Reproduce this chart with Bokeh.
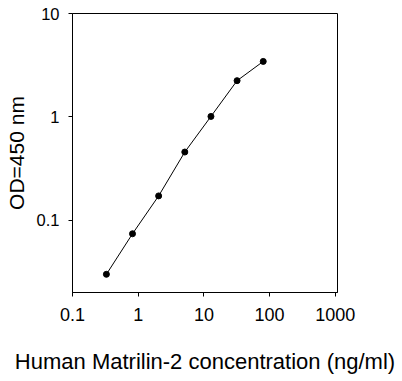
from bokeh.plotting import figure
from bokeh.models import FixedTicker, CustomJSTickFormatter, Range1d
from bokeh.embed import file_html
from bokeh.resources import INLINE

conc = [0.328, 0.819, 2.048, 5.12, 12.8, 32, 80]
od = [0.030, 0.074, 0.172, 0.457, 1.01, 2.24, 3.44]
x_ticks = [0.1, 1, 10, 100, 1000]
y_ticks = [0.1, 1, 10]
x_title = "Human Matrilin-2 concentration (ng/ml)"
y_title = "OD=450 nm"

p = figure(width=400, height=380, x_axis_type="log", y_axis_type="log",
           x_range=Range1d(0.1, 1080), y_range=Range1d(0.02, 10),
           min_border_left=72, min_border_top=13, min_border_right=63, min_border_bottom=88,
           output_backend="svg", toolbar_location=None)

p.line(conc, od, line_color="black", line_width=1)
p.scatter(conc, od, size=6, color="black")

fmt = CustomJSTickFormatter(code="return tick.toString();")
for ax, ticks in ((p.xaxis[0], x_ticks), (p.yaxis[0], y_ticks)):
    ax.ticker = FixedTicker(ticks=ticks, minor_ticks=[])
    ax.formatter = fmt
    ax.axis_line_color = "black"
    ax.major_tick_line_color = "black"
    ax.major_tick_out = 4
    ax.major_tick_in = 0
    ax.minor_tick_line_color = None
    ax.major_label_text_font = "Liberation Sans"
    ax.axis_label_text_font = "Liberation Sans"
    ax.axis_label_text_font_style = "normal"
    ax.major_label_text_color = "black"
    ax.axis_label_text_color = "black"

p.xaxis.axis_label = x_title
p.yaxis.axis_label = y_title
p.xaxis.major_label_text_font_size = "18px"
p.yaxis.major_label_text_font_size = "16.5px"
p.xaxis.axis_label_text_font_size = "22px"
p.yaxis.axis_label_text_font_size = "21px"
p.xaxis.major_label_standoff = 11
p.yaxis.major_label_standoff = 9
p.xaxis.axis_label_standoff = 25
p.yaxis.axis_label_standoff = 6

p.xgrid.grid_line_color = None
p.ygrid.grid_line_color = None
p.outline_line_color = "black"
p.outline_line_width = 1
p.background_fill_color = "white"
p.border_fill_color = "white"

open("out.html", "w").write(file_html(p, INLINE))
